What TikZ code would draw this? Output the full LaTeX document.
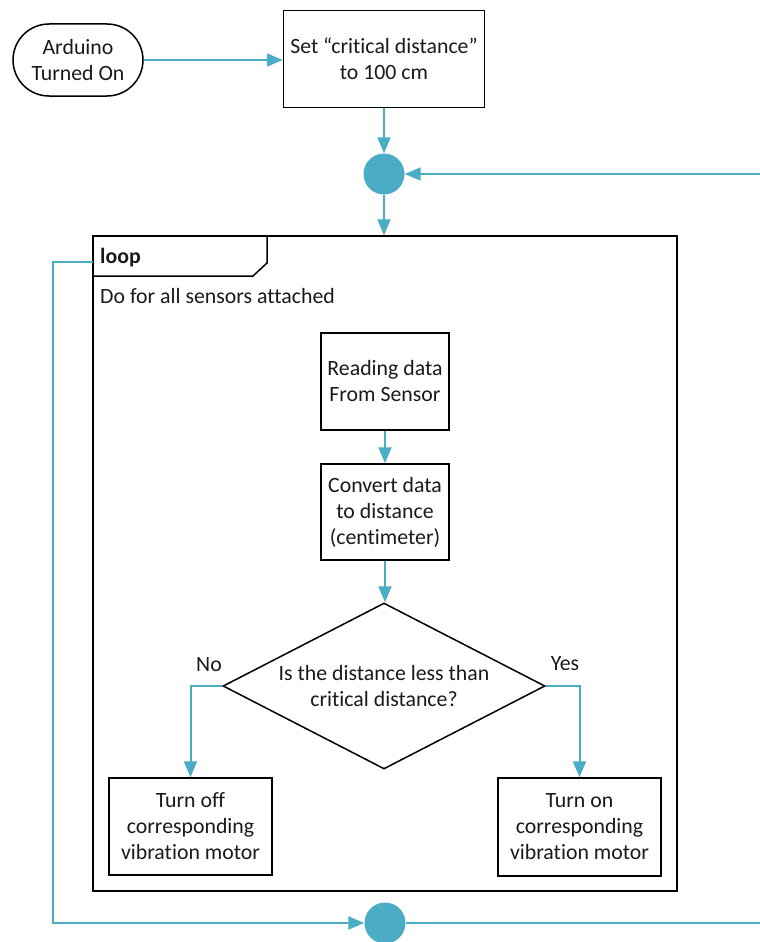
\documentclass[tikz,border=0pt]{standalone}
\usepackage{fontspec}
\setmainfont{Carlito}[Ligatures=NoCommon]
\usetikzlibrary{arrows.meta,shapes.geometric}
\definecolor{teal1}{HTML}{4BACC6}
\definecolor{txt}{HTML}{1A1A1A}
\begin{document}
\begin{tikzpicture}[x=1pt,y=-1pt,
  font=\fontsize{21.8}{26}\selectfont,
  every node/.style={text=txt},
  conn/.style={draw=teal1,line width=2pt},
  arr/.style={conn,-{Triangle[length=16pt,width=13pt]}},
  box/.style={draw=black,line width=1.5pt,align=center,inner sep=0pt},
  dot/.style={circle,fill=teal1,minimum size=41pt,inner sep=0pt},
]
\useasboundingbox[fill=white] (0,0) rectangle (760,942);

% nodes
\node[box,rounded corners=36pt,minimum width=130pt,minimum height=72pt] (start) at (78,60) {Arduino\\Turned On};
\node[box,minimum width=201pt,minimum height=97pt] (setcd) at (384,59) {Set “critical distance”\\to 100 cm};
\node[dot] (topc) at (384,174) {};

\node[draw=black,line width=1.5pt,minimum width=584pt,minimum height=655pt,inner sep=0pt] (frame) at (385,563.5) {};
\draw[line width=1.5pt] (93,276) -- (253,276) -- (267,263) -- (267,236);
\node[anchor=base west,inner sep=0pt,font=\fontsize{21.8}{26}\selectfont\bfseries] (looplbl) at (100,263) {loop};
\node[anchor=base west,inner sep=0pt] (doall) at (100,303) {Do for all sensors attached};

\node[box,minimum width=128pt,minimum height=97pt] (read) at (385,381.5) {Reading data\\From Sensor};
\node[box,minimum width=128pt,minimum height=96pt] (conv) at (385,512) {Convert data\\to distance\\(centimeter)};
\node[draw=black,line width=1.5pt,diamond,aspect=1.94,minimum width=322pt,minimum height=166pt,inner sep=0pt,align=center] (dec) at (384,686) {Is the distance less than\\critical distance?};

\node[box,minimum width=163pt,minimum height=97pt] (off) at (190.5,826.5) {Turn off\\corresponding\\vibration motor};
\node[box,minimum width=163pt,minimum height=98pt] (on) at (579.5,827) {Turn on\\corresponding\\vibration motor};
\node (no) at (209,665) {No};
\node (yes) at (565,664) {Yes};
\node[dot] (botc) at (385,923) {};

\coordinate (rt) at (760,174);
\coordinate (rb) at (760,923);
\coordinate (lp) at (53,262);
\coordinate (lpin) at (93,262);

% connectors
\draw[arr] (start.east) -- (start.east -| setcd.west);
\draw[arr] (setcd.south) -- (topc.north);
\draw[arr] (rt) -- (topc.east);
\draw[arr] (topc.south) -- (topc.south |- frame.north);
\draw[arr] (read.south) -- (conv.north);
\draw[arr] (conv.south) -- (conv.south |- dec.north);
\draw[arr] (dec.west) -| (off.north);
\draw[arr] (dec.east) -| (on.north);
\draw[arr] (lpin) -- (lp) |- (botc.west);
\draw[conn] (botc.east) -- (rb);
\end{tikzpicture}
\end{document}
